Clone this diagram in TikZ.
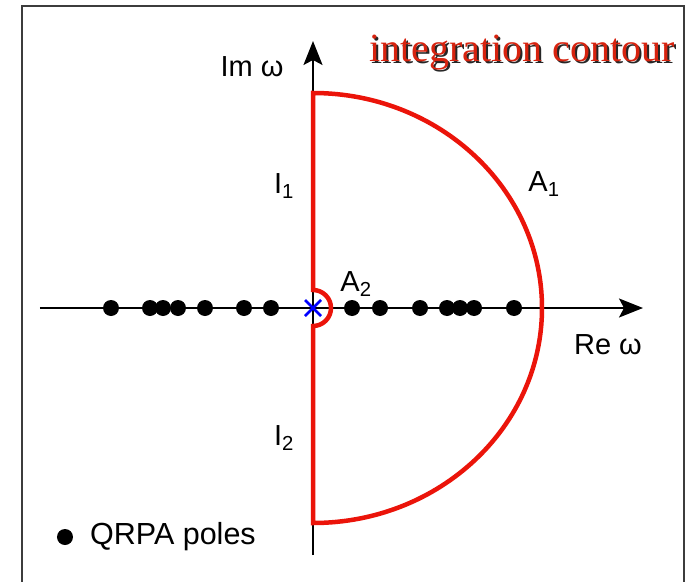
\documentclass[tikz,border=0pt]{standalone}
\usepackage{fontspec}
\setmainfont{Liberation Sans}
\newfontfamily\titlefont{Liberation Serif}
\usetikzlibrary{arrows.meta,positioning}
\definecolor{contourred}{RGB}{235,20,10}
\definecolor{titlered}{RGB}{215,35,15}
\definecolor{framegray}{RGB}{60,60,60}

\begin{document}
\begin{tikzpicture}[x=1pt, y=1pt,
    font=\fontsize{29}{34}\selectfont,
    >={Stealth[length=24pt,width=19pt,inset=5pt]},
    axis/.style={->, draw, black, line width=1.4pt},
    contour/.style={draw, contourred, line width=4.5pt},
    pole/.style={circle, fill=black, inner sep=0pt, minimum size=16pt},
    lbl/.style={inner sep=0pt},
    heading/.style={font=\titlefont\fontsize{40}{44}\selectfont, inner sep=0pt}]

\useasboundingbox (-313,-273) rectangle (379,308);
\draw [framegray, line width=1.8pt] (-291,-280) -- (-291,302) -- (371,302) -- (371,-280);

% axes
\coordinate (o) at (0,0);
\coordinate (xs) at (-273,0);
\coordinate (xe) at (330,0);
\coordinate (ys) at (0,-247);
\coordinate (ye) at (0,267);
\draw [axis] (xs) -- (xe);
\draw [axis] (ys) -- (ye);

% contour
\draw [contour] (0,-215) -- (0,-18) arc (-90:90:18) -- (0,215)
    arc [start angle=90, end angle=-90, x radius=229, y radius=215] -- cycle;

% poles
\foreach \p in {-202,-163,-150,-135,-108,-69,-42,39,67,107,134,147,161,201}
    \node [pole] at (\p,0) {};
\draw [blue, line width=2.6pt] (-8,-8) -- (8,8) (-8,8) -- (8,-8);

% labels
\node [lbl] (imw) at (-61,241) {Im ω};
\node [lbl] (rew) at (295,-37) {Re ω};
\node [lbl] (i1) at (-29,122) {I\textsubscript{1}};
\node [lbl] (i2) at (-29,-130) {I\textsubscript{2}};
\node [lbl] (a1) at (231,124) {A\textsubscript{1}};
\node [lbl] (a2) at (43,24) {A\textsubscript{2}};

% legend
\node [pole] (ldot) at (-248,-229) {};
\node [lbl, anchor=west, font=\fontsize{30.5}{34}\selectfont] (ltext) at (-223,-229) {QRPA poles};

% title
\node [heading, black!85] (shadow) at (211,253) {integration contour};
\node [heading, titlered] (title) at (209,255) {integration contour};

\end{tikzpicture}
\end{document}
